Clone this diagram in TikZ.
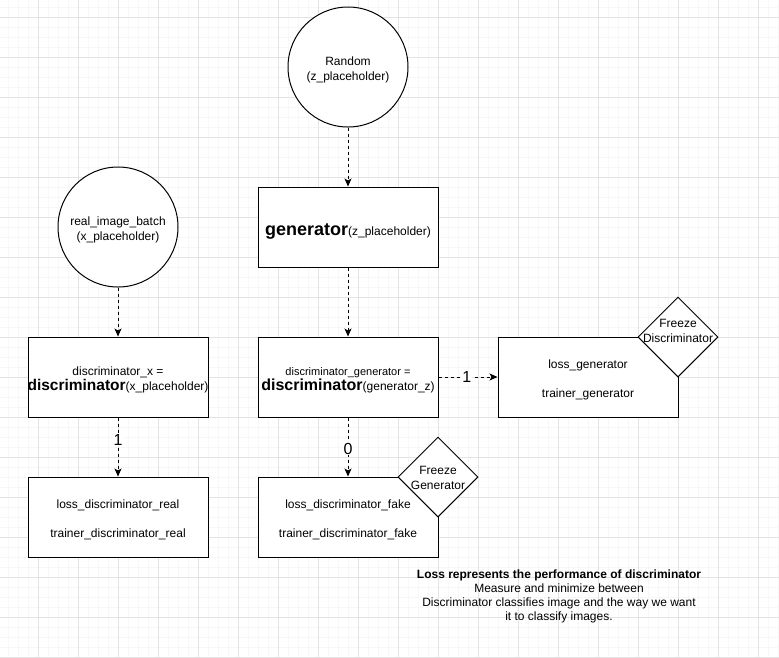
\documentclass[tikz,border=0pt]{standalone}
\usepackage{fontspec}
\setmainfont{Liberation Sans}
\usetikzlibrary{arrows.meta,shapes.geometric}

\definecolor{gridminor}{HTML}{F7F7F7}
\definecolor{gridmajor}{HTML}{E3E3E3}

\tikzset{
  txt/.style={font=\fontsize{12}{14.4}\selectfont, text=black, align=center, inner sep=0pt},
  inbox/.style={txt, yshift=-3pt},
  blk/.style={draw=black, line width=1pt, fill=white,
    minimum width=180pt, minimum height=80pt, inner sep=0pt},
  circ/.style={draw=black, line width=1pt, fill=white, circle,
    minimum size=120pt, inner sep=0pt},
  diam/.style={draw=black, line width=1pt, fill=white, diamond,
    minimum width=80pt, minimum height=80pt, inner sep=0pt},
  flow/.style={draw=black, line width=1pt, dash pattern=on 3pt off 3pt,
    -{Stealth[length=8pt,width=7pt,inset=2pt]}},
  lbl/.style={font=\fontsize{16}{18}\selectfont, text=black, fill=white,
    inner sep=1pt},
  minorline/.style={draw=gridminor, line width=1pt},
  majorline/.style={draw=gridmajor, line width=1pt},
}

\newcommand{\bigbf}[1]{{\fontsize{16}{18}\selectfont\bfseries #1}}

\begin{document}
\begin{tikzpicture}[x=1pt,y=-1pt]
  % canvas and background grid
  \fill[white] (0,0) rectangle (779,657);
  \useasboundingbox (0,0) rectangle (779,657);
  \foreach \x in {8,18,...,778} \draw[minorline] (\x,0) -- (\x,657);
  \foreach \y in {7,17,...,657} \draw[minorline] (0,\y) -- (779,\y);
  \foreach \x in {38,78,...,778} \draw[majorline] (\x,0) -- (\x,657);
  \foreach \y in {17,57,...,657} \draw[majorline] (0,\y) -- (779,\y);

  % inputs
  \node[circ, label={[inbox]center:{Random\\(z\_placeholder)}}] (rand) at (348,67) {};
  \node[circ, label={[inbox]center:{real\_image\_batch\\(x\_placeholder)}}] (real) at (118,227) {};

  % networks
  \node[blk, label={[inbox, yshift=-2pt]center:{{\fontsize{18}{20}\selectfont\bfseries generator}(z\_placeholder)}}]
    (gen) at (348,227) {};
  \node[blk, label={[inbox]center:{discriminator\_x =\\[1pt]{\fontsize{15.5}{18}\selectfont\bfseries discriminator}(x\_placeholder)}}]
    (dx) at (118,377) {};
  \node[blk, label={[inbox]center:{{\fontsize{11}{13}\selectfont discriminator\_generator =}\\[1pt]\bigbf{discriminator}(generator\_z)}}]
    (dg) at (348,377) {};

  % losses and trainers
  \node[blk, label={[inbox]center:{loss\_generator\\[14.4pt]trainer\_generator}}]
    (lg) at (588,377) {};
  \node[blk, label={[inbox]center:{loss\_discriminator\_fake\\[14.4pt]trainer\_discriminator\_fake}}]
    (lf) at (348,517) {};
  \node[blk, label={[inbox]center:{loss\_discriminator\_real\\[14.4pt]trainer\_discriminator\_real}}]
    (lr) at (118,517) {};

  % freeze markers
  \node[diam] (fd) at (678,337) {};
  \node[txt] (fdt) at (678,331) {Freeze\\Discriminator};
  \node[diam] (fg) at (438,477) {};
  \node[txt] (fgt) at (438,478) {Freeze\\Generator};

  % data flow
  \draw[flow] (rand.south) -- (gen.north);
  \draw[flow] (real.south) -- (dx.north);
  \draw[flow] (gen.south) -- (dg.north);
  \draw[flow] (dx.south) -- node[lbl, pos=0.38] (l1) {1} (lr.north);
  \draw[flow] (dg.south) -- node[lbl, pos=0.53] (l0) {0} (lf.north);
  \draw[flow] (dg.east) -- node[lbl, pos=0.48] (l2) {1} (lg.west);

  % note
  \node[txt, font=\fontsize{12}{14}\selectfont] (note) at (559,596)
    {\textbf{Loss represents the performance of discriminator}\\
     Measure and minimize between\\
     Discriminator classifies image and the way we want\\
     it to classify images.};
\end{tikzpicture}
\end{document}
